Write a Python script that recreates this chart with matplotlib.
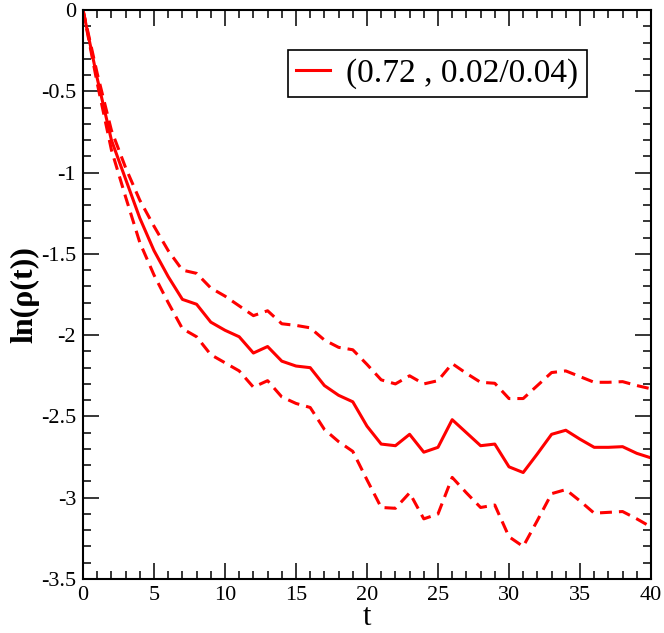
import matplotlib
matplotlib.use("Agg")
import matplotlib.pyplot as plt
import numpy as np

t = np.arange(0, 41)

# mean curve (solid) and the two bounds (dashed)
mean = [0, -0.42, -0.80, -1.04, -1.28, -1.48, -1.64, -1.78, -1.81, -1.92,
        -1.97, -2.01, -2.11, -2.07, -2.16, -2.19, -2.20, -2.31, -2.37, -2.41,
        -2.56, -2.67, -2.68, -2.61, -2.72, -2.69, -2.52, -2.60, -2.68, -2.67,
        -2.81, -2.845, -2.73, -2.61, -2.585, -2.64, -2.69, -2.69, -2.686, -2.727,
        -2.755]
upper = [0, -0.39, -0.74, -0.97, -1.17, -1.33, -1.48, -1.60, -1.62, -1.71,
         -1.76, -1.82, -1.88, -1.85, -1.93, -1.94, -1.955, -2.03, -2.075, -2.09,
         -2.18, -2.275, -2.30, -2.25, -2.30, -2.28, -2.175, -2.235, -2.29, -2.296,
         -2.39, -2.39, -2.31, -2.23, -2.22, -2.255, -2.29, -2.29, -2.286, -2.31,
         -2.33]
lower = [0, -0.45, -0.86, -1.15, -1.43, -1.63, -1.80, -1.96, -2.01, -2.12,
         -2.17, -2.22, -2.32, -2.28, -2.38, -2.42, -2.445, -2.58, -2.655, -2.715,
         -2.89, -3.06, -3.065, -2.97, -3.13, -3.10, -2.875, -2.97, -3.06, -3.045,
         -3.24, -3.30, -3.14, -2.975, -2.95, -3.02, -3.095, -3.09, -3.085, -3.13,
         -3.18]

label = "(0.72 , 0.02/0.04)"

plt.rcParams["font.family"] = ["Liberation Serif", "DejaVu Serif"]

fig = plt.figure(figsize=(6.64, 6.33), dpi=100)
ax = fig.add_axes([0.125, 0.0853, 0.8554, 0.8989])

ax.plot(t, mean, color="red", lw=2.2, label=label)
ax.plot(t, upper, color="red", lw=2.2, dashes=(3.9, 2.3))
ax.plot(t, lower, color="red", lw=2.2, dashes=(3.9, 2.3))

ax.set_xlim(0, 40)
ax.set_ylim(-3.5, 0)
ax.set_xticks(np.arange(0, 41, 5))
ax.set_xticks(np.arange(0, 41, 1), minor=True)
ax.set_yticks(np.arange(-3.5, 0.01, 0.5))
ax.set_yticks(np.arange(-3.5, 0.01, 0.1), minor=True)
ax.set_yticklabels(["-3.5", "-3", "-2.5", "-2", "-1.5", "-1", "-0.5", "0"])

ax.tick_params(which="both", direction="in", top=True, right=True, width=1.1,
               labelsize=16)
ax.tick_params(which="major", length=11.5)
ax.tick_params(which="minor", length=5.8)
ax.tick_params(axis="x", pad=5)
ax.tick_params(axis="y", pad=5)
for s in ax.spines.values():
    s.set_linewidth(1.5)

ax.set_xlabel("t", fontsize=22)
ax.xaxis.set_label_coords(0.5, -0.042)
ax.xaxis.label.set_va("top")
ax.set_ylabel("ln(ρ(t))", fontsize=23, fontweight="bold")
ax.yaxis.set_label_coords(-0.076, 0.5)

leg = ax.legend(loc="upper right", bbox_to_anchor=(0.887, 0.93), borderaxespad=0,
                fontsize=24, handlelength=1.0, handletextpad=0.5,
                borderpad=0.25, fancybox=False, framealpha=1)
leg.get_frame().set_edgecolor("black")
leg.get_frame().set_linewidth(1.2)

fig.savefig("out.png", dpi=100)
